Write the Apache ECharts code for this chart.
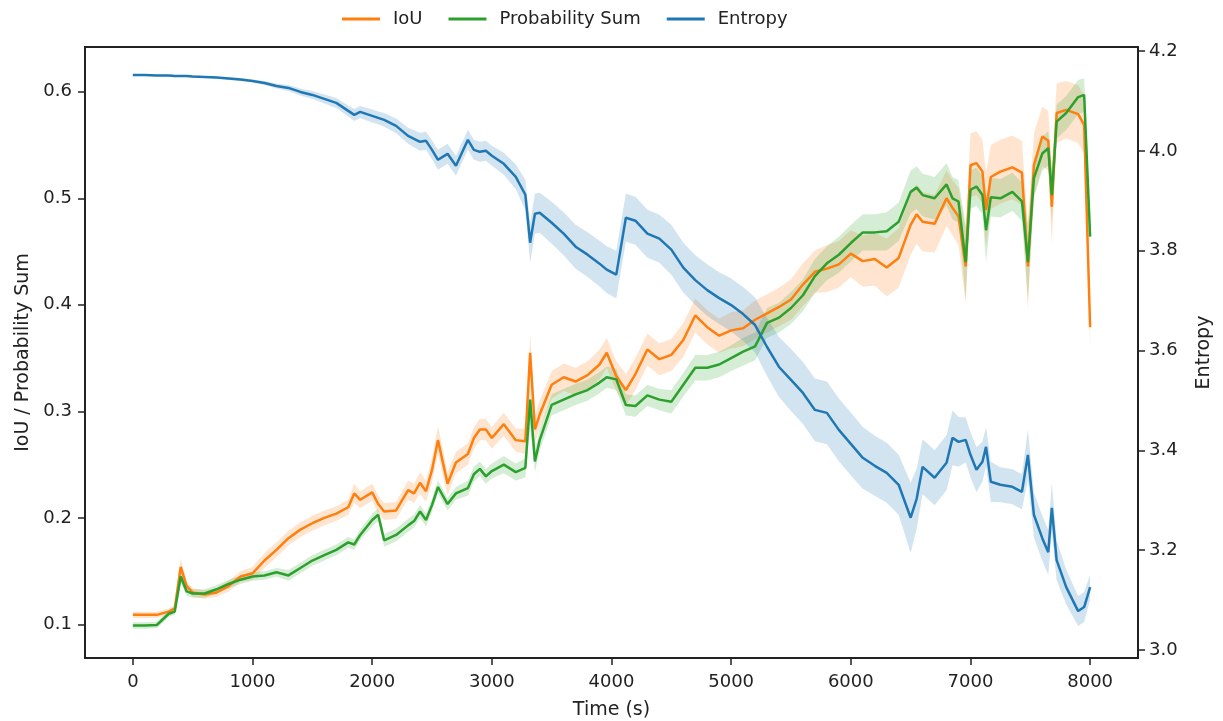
<!DOCTYPE html>
<html>
<head>
<meta charset="utf-8">
<script src="https://cdn.jsdelivr.net/npm/echarts@6/dist/echarts.min.js"></script>
<style>
html, body { margin: 0; padding: 0; background: #fff; }
#main { width: 1223px; height: 721px; }
</style>
</head>
<body>
<div id="main"></div>
<script>
// time stamps (s), shared by all three curves
var times = [0,100,200,300,350,400,450,500,600,700,800,900,1000,1100,1200,1300,1400,1500,1600,1700,1800,1850,1900,2000,2050,2100,2200,2300,2350,2400,2450,2500,2550,2630,2700,2800,2850,2900,2950,3000,3100,3200,3280,3320,3360,3400,3500,3600,3700,3800,3900,3960,4040,4120,4200,4300,4400,4500,4600,4700,4800,4900,5000,5100,5200,5300,5400,5500,5600,5700,5800,5900,6000,6100,6200,6300,6400,6500,6550,6600,6700,6800,6850,6900,6960,7000,7050,7100,7130,7170,7250,7350,7430,7480,7530,7600,7650,7680,7720,7800,7900,7950,8000];

var iouMean = [0.109,0.109,0.109,0.112,0.115,0.154,0.136,0.130,0.128,0.130,0.136,0.145,0.148,0.160,0.170,0.181,0.189,0.195,0.200,0.204,0.210,0.223,0.217,0.224,0.213,0.206,0.207,0.226,0.223,0.233,0.225,0.245,0.273,0.232,0.252,0.260,0.275,0.283,0.283,0.275,0.288,0.273,0.272,0.355,0.283,0.297,0.325,0.332,0.328,0.334,0.344,0.355,0.333,0.320,0.335,0.358,0.349,0.353,0.367,0.390,0.379,0.371,0.376,0.378,0.386,0.392,0.398,0.405,0.419,0.431,0.434,0.438,0.448,0.441,0.443,0.435,0.444,0.475,0.485,0.478,0.476,0.500,0.491,0.483,0.436,0.531,0.533,0.525,0.489,0.520,0.525,0.529,0.524,0.436,0.531,0.558,0.554,0.492,0.580,0.583,0.579,0.569,0.379];
var iouErr = [0.003,0.003,0.003,0.003,0.003,0.008,0.004,0.004,0.004,0.004,0.005,0.005,0.006,0.007,0.007,0.007,0.007,0.007,0.007,0.007,0.007,0.009,0.008,0.008,0.008,0.008,0.008,0.009,0.009,0.010,0.010,0.011,0.013,0.011,0.010,0.010,0.010,0.010,0.010,0.010,0.011,0.011,0.012,0.018,0.013,0.013,0.013,0.013,0.013,0.013,0.014,0.014,0.014,0.015,0.015,0.015,0.015,0.015,0.016,0.016,0.016,0.016,0.017,0.017,0.018,0.018,0.018,0.019,0.020,0.020,0.022,0.022,0.022,0.024,0.025,0.027,0.028,0.028,0.028,0.028,0.027,0.026,0.026,0.027,0.035,0.030,0.030,0.030,0.035,0.030,0.030,0.030,0.030,0.040,0.030,0.028,0.028,0.035,0.028,0.027,0.027,0.027,0.020];

var probMean = [0.099,0.099,0.0995,0.110,0.112,0.145,0.131,0.129,0.129,0.133,0.138,0.142,0.145,0.146,0.149,0.146,0.153,0.160,0.165,0.170,0.177,0.175,0.184,0.198,0.203,0.179,0.184,0.193,0.197,0.206,0.198,0.212,0.229,0.213,0.223,0.228,0.241,0.246,0.239,0.244,0.250,0.243,0.247,0.311,0.253,0.273,0.306,0.311,0.316,0.320,0.327,0.332,0.330,0.306,0.305,0.315,0.311,0.309,0.325,0.341,0.341,0.344,0.350,0.356,0.361,0.383,0.388,0.397,0.409,0.427,0.439,0.447,0.458,0.468,0.468,0.469,0.478,0.506,0.510,0.503,0.500,0.513,0.500,0.497,0.440,0.508,0.511,0.503,0.470,0.501,0.500,0.506,0.497,0.440,0.519,0.542,0.547,0.503,0.572,0.580,0.595,0.597,0.464];
var probErr = [0.003,0.003,0.003,0.003,0.003,0.006,0.004,0.004,0.004,0.004,0.004,0.004,0.004,0.004,0.004,0.005,0.005,0.005,0.005,0.005,0.005,0.005,0.005,0.006,0.006,0.006,0.006,0.006,0.006,0.006,0.006,0.006,0.006,0.006,0.006,0.007,0.007,0.007,0.007,0.007,0.008,0.008,0.009,0.025,0.010,0.010,0.010,0.010,0.010,0.010,0.010,0.010,0.010,0.010,0.010,0.010,0.010,0.011,0.011,0.012,0.012,0.012,0.012,0.013,0.013,0.014,0.014,0.015,0.015,0.016,0.016,0.017,0.017,0.017,0.017,0.018,0.018,0.020,0.020,0.020,0.020,0.020,0.020,0.020,0.035,0.018,0.018,0.018,0.030,0.018,0.018,0.018,0.018,0.035,0.018,0.016,0.016,0.025,0.016,0.016,0.016,0.016,0.015];

var entMean = [4.152,4.152,4.151,4.151,4.150,4.150,4.150,4.149,4.148,4.147,4.145,4.143,4.140,4.136,4.130,4.126,4.118,4.112,4.104,4.096,4.080,4.072,4.078,4.070,4.066,4.062,4.050,4.030,4.024,4.018,4.020,4.002,3.982,3.994,3.970,4.022,4.002,3.998,4.000,3.990,3.974,3.948,3.912,3.816,3.874,3.876,3.856,3.834,3.808,3.792,3.774,3.762,3.752,3.866,3.860,3.834,3.824,3.802,3.766,3.741,3.721,3.705,3.691,3.673,3.651,3.607,3.567,3.541,3.515,3.481,3.475,3.441,3.413,3.385,3.369,3.355,3.331,3.265,3.303,3.367,3.345,3.375,3.425,3.417,3.421,3.391,3.361,3.377,3.407,3.337,3.331,3.327,3.317,3.391,3.271,3.224,3.196,3.285,3.180,3.126,3.078,3.086,3.126];
var entErr = [0.002,0.002,0.002,0.002,0.002,0.002,0.002,0.002,0.002,0.002,0.003,0.003,0.003,0.004,0.005,0.006,0.007,0.008,0.009,0.010,0.011,0.012,0.012,0.013,0.013,0.014,0.015,0.016,0.017,0.018,0.018,0.019,0.020,0.020,0.020,0.020,0.020,0.020,0.020,0.020,0.022,0.025,0.030,0.040,0.040,0.040,0.042,0.043,0.044,0.045,0.046,0.047,0.048,0.048,0.048,0.048,0.048,0.050,0.050,0.050,0.052,0.052,0.053,0.054,0.055,0.058,0.060,0.062,0.062,0.063,0.063,0.063,0.063,0.062,0.060,0.060,0.060,0.070,0.060,0.055,0.055,0.055,0.055,0.050,0.045,0.045,0.045,0.040,0.040,0.040,0.035,0.035,0.035,0.050,0.045,0.045,0.045,0.050,0.040,0.035,0.030,0.030,0.025];

var xTicks = [0, 1000, 2000, 3000, 4000, 5000, 6000, 7000, 8000];
var leftTicks = [0.1, 0.2, 0.3, 0.4, 0.5, 0.6];
var rightTicks = [3.0, 3.2, 3.4, 3.6, 3.8, 4.0, 4.2];

var chartDom = document.getElementById('main');
var myChart = echarts.init(chartDom, null, { renderer: 'canvas' });

var textColor = '#222';

function meanData(vals) {
  return times.map(function (t, i) { return [t, vals[i]]; });
}

// confidence band drawn as one polygon: upper edge forward, lower edge back
function band(key, vals, errs, fill, yIdx) {
  var rows = times.map(function (t, i) { return [t, vals[i] - errs[i], vals[i] + errs[i]]; });
  return {
    name: key, type: 'custom', yAxisIndex: yIdx, silent: true,
    data: rows,
    encode: { x: 0, y: [1, 2] },
    renderItem: function (params, api) {
      if (params.dataIndex !== 0) return;
      var pts = [];
      for (var i = 0; i < rows.length; i++) pts.push(api.coord([rows[i][0], rows[i][2]]));
      for (var j = rows.length - 1; j >= 0; j--) pts.push(api.coord([rows[j][0], rows[j][1]]));
      return {
        type: 'polygon',
        shape: { points: pts },
        style: { fill: fill, stroke: 'none' }
      };
    }
  };
}

function mainLine(name, vals, color, yIdx) {
  return {
    name: name, type: 'line', yAxisIndex: yIdx, data: meanData(vals),
    symbol: 'none', color: color,
    lineStyle: { color: color, width: 2.5 }
  };
}

var series = [
  band('iouBand', iouMean, iouErr, 'rgba(255,127,14,0.2)', 0),
  mainLine('IoU', iouMean, '#ff7f0e', 0),
  band('probBand', probMean, probErr, 'rgba(44,160,44,0.2)', 0),
  mainLine('Probability Sum', probMean, '#2ca02c', 0),
  band('entBand', entMean, entErr, 'rgba(31,119,180,0.2)', 1),
  mainLine('Entropy', entMean, '#1f77b4', 1)
];

var option = {
  animation: false,
  backgroundColor: '#fff',
  textStyle: { fontFamily: 'DejaVu Sans' },
  legend: {
    data: ['IoU', 'Probability Sum', 'Entropy'],
    left: 337,
    top: 5,
    icon: 'rect',
    itemWidth: 38,
    itemHeight: 3,
    itemGap: 26,
    textStyle: { fontSize: 18, color: textColor, padding: [0, 0, 0, 8] }
  },
  grid: {
    left: 85, right: 85, top: 47, height: 611,
    outerBoundsMode: 'none',
    show: true, borderColor: textColor, borderWidth: 2
  },
  xAxis: {
    type: 'value', min: -400, max: 8400,
    name: 'Time (s)', nameLocation: 'middle', nameGap: 43,
    nameTextStyle: { fontSize: 19, color: textColor },
    axisLine: { show: true, onZero: false, lineStyle: { color: textColor, width: 2 } },
    axisTick: { show: true, customValues: xTicks, length: 7, lineStyle: { color: textColor, width: 1.5 } },
    axisLabel: {
      customValues: xTicks, fontSize: 18, color: textColor, margin: 15,
      formatter: function (v) { return String(v); }
    },
    splitLine: { show: false }
  },
  yAxis: [
    {
      type: 'value', position: 'left', min: 0.0685, max: 0.642,
      name: 'IoU / Probability Sum', nameLocation: 'middle', nameGap: 52,
      nameTextStyle: { fontSize: 19, color: textColor },
      axisLine: { show: true, onZero: false, lineStyle: { color: textColor, width: 2 } },
      axisTick: { show: true, customValues: leftTicks, length: 7, lineStyle: { color: textColor, width: 1.5 } },
      axisLabel: {
        customValues: leftTicks, fontSize: 18, color: textColor, margin: 13,
        formatter: function (v) { return v.toFixed(1); }
      },
      splitLine: { show: false }
    },
    {
      type: 'value', position: 'right', min: 2.984, max: 4.208,
      name: 'Entropy', nameLocation: 'middle', nameGap: 57,
      nameTextStyle: { fontSize: 19, color: textColor },
      axisLine: { show: true, onZero: false, lineStyle: { color: textColor, width: 2 } },
      axisTick: { show: true, customValues: rightTicks, length: 7, lineStyle: { color: textColor, width: 1.5 } },
      axisLabel: {
        customValues: rightTicks, fontSize: 18, color: textColor, margin: 11,
        formatter: function (v) { return v.toFixed(1); }
      },
      splitLine: { show: false }
    }
  ],
  series: series
};

myChart.setOption(option);
window.addEventListener('resize', myChart.resize);
</script>
</body>
</html>
